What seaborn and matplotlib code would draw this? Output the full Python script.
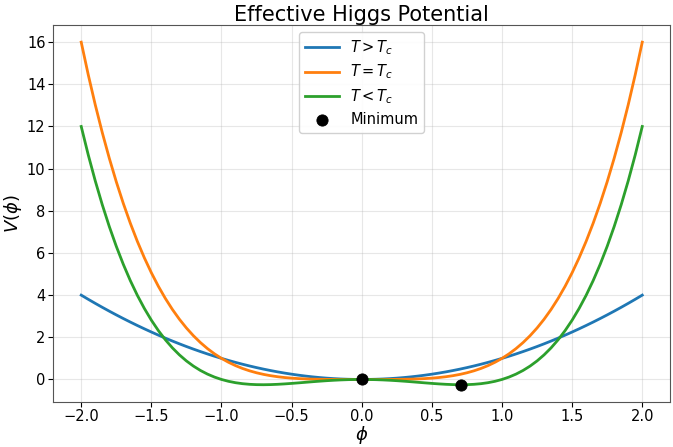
import numpy as np
import pandas as pd
import matplotlib
matplotlib.use("Agg")
import matplotlib.pyplot as plt
import seaborn as sns

phi = np.round(np.linspace(-2.0, 2.0, 81), 2)

v_above = [4.00, 3.8025, 3.61, 3.4225, 3.24, 3.0625, 2.89, 2.7225, 2.56, 2.4025,
           2.25, 2.1025, 1.96, 1.8225, 1.69, 1.5625, 1.44, 1.3225, 1.21, 1.1025,
           1.00, 0.9025, 0.81, 0.7225, 0.64, 0.5625, 0.49, 0.4225, 0.36, 0.3025,
           0.25, 0.2025, 0.16, 0.1225, 0.09, 0.0625, 0.04, 0.0225, 0.01, 0.0025,
           0.00,
           0.0025, 0.01, 0.0225, 0.04, 0.0625, 0.09, 0.1225, 0.16, 0.2025, 0.25,
           0.3025, 0.36, 0.4225, 0.49, 0.5625, 0.64, 0.7225, 0.81, 0.9025, 1.00,
           1.1025, 1.21, 1.3225, 1.44, 1.5625, 1.69, 1.8225, 1.96, 2.1025, 2.25,
           2.4025, 2.56, 2.7225, 2.89, 3.0625, 3.24, 3.4225, 3.61, 3.8025, 4.00]

v_crit = [16.00, 14.459, 13.032, 11.714, 10.498, 9.379, 8.352, 7.412, 6.554, 5.772,
          5.0625, 4.4205, 3.8416, 3.3215, 2.8561, 2.4414, 2.0736, 1.7490, 1.4641, 1.2155,
          1.00, 0.8145, 0.6561, 0.5220, 0.4096, 0.3164, 0.2401, 0.1785, 0.1296, 0.0915,
          0.0625, 0.0410, 0.0256, 0.0150, 0.0081, 0.0039, 0.0016, 0.0005, 0.0001, 0.0000,
          0.00,
          0.0000, 0.0001, 0.0005, 0.0016, 0.0039, 0.0081, 0.0150, 0.0256, 0.0410, 0.0625,
          0.0915, 0.1296, 0.1785, 0.2401, 0.3164, 0.4096, 0.5220, 0.6561, 0.8145, 1.00,
          1.2155, 1.4641, 1.7490, 2.0736, 2.4414, 2.8561, 3.3215, 3.8416, 4.4205, 5.0625,
          5.772, 6.554, 7.412, 8.352, 9.379, 10.498, 11.714, 13.032, 14.459, 16.00]

v_below = [12.00, 10.6565, 9.4221, 8.2910, 7.2576, 6.3164, 5.4621, 4.6895, 3.9936, 3.3695,
           2.8125, 2.3180, 1.8816, 1.4990, 1.1661, 0.8789, 0.6336, 0.4265, 0.2541, 0.1130,
           0.00, -0.0880, -0.1539, -0.2005, -0.2304, -0.2461, -0.2499, -0.2440, -0.2304, -0.2110,
           -0.1875, -0.1615, -0.1344, -0.1075, -0.0819, -0.0586, -0.0384, -0.0220, -0.0099, -0.0025,
           0.00,
           -0.0025, -0.0099, -0.0220, -0.0384, -0.0586, -0.0819, -0.1075, -0.1344, -0.1615, -0.1875,
           -0.2110, -0.2304, -0.2440, -0.2499, -0.2461, -0.2304, -0.2005, -0.1539, -0.0880, 0.00,
           0.1130, 0.2541, 0.4265, 0.6336, 0.8789, 1.1661, 1.4990, 1.8816, 2.3180, 2.8125,
           3.3695, 3.9936, 4.6895, 5.4621, 6.3164, 7.2576, 8.2910, 9.4221, 10.6565, 12.00]

min_phi = [0.0, 0.707]
min_v = [0.0, -0.25]

labels = [r"$T > T_c$", r"$T = T_c$", r"$T < T_c$"]
colors = ["#1f77b4", "#ff7f0e", "#2ca02c"]

fig = plt.figure(figsize=(6.73, 4.47), dpi=100)
ax = fig.add_axes([0.079, 0.101, 0.917, 0.843])

for vals, lab, col in zip([v_above, v_crit, v_below], labels, colors):
    df = pd.DataFrame({"phi": phi, "V": vals})
    sns.lineplot(data=df, x="phi", y="V", ax=ax, color=col, linewidth=2.0, label=lab)

sns.scatterplot(x=min_phi, y=min_v, ax=ax, color="black", s=65, zorder=5,
                label="Minimum", edgecolor="black")

ax.set_title("Effective Higgs Potential", fontsize=15, pad=2)
ax.set_xlabel(r"$\phi$", fontsize=13, labelpad=0)
ax.set_ylabel(r"$V(\phi)$", fontsize=13, labelpad=2)
ax.tick_params(labelsize=10.5, length=3.5, pad=2)
ax.grid(True, alpha=0.3)
for s in ax.spines.values():
    s.set_color("#555555")
ax.legend(loc="upper center", fontsize=10.5, framealpha=0.9, handlelength=2.3,
          labelspacing=0.4)

fig.savefig("out.png", dpi=100)
